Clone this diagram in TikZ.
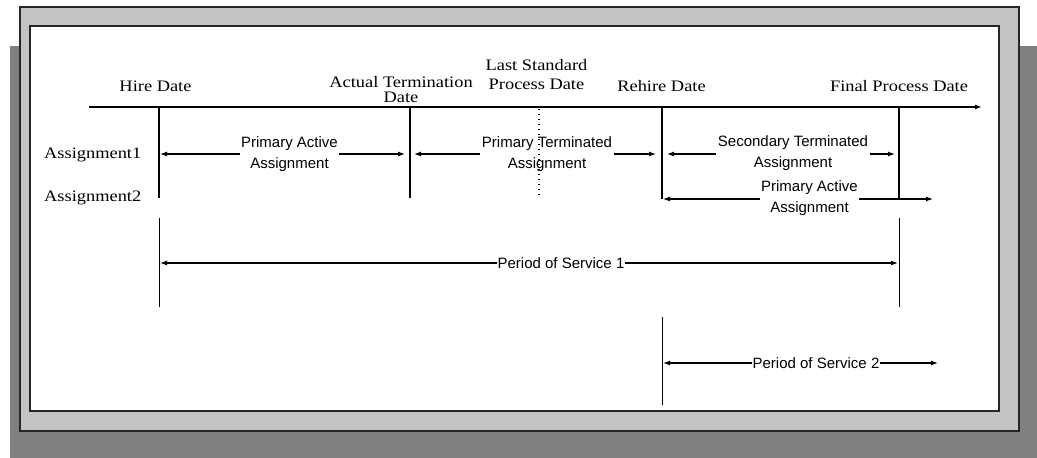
\documentclass[tikz,border=0pt]{standalone}
\usepackage{fontspec}
\setmainfont{Liberation Serif}
\newfontfamily\datefont[FakeStretch=1.15]{Liberation Serif}
\newfontfamily\labfont{Liberation Sans}
\usetikzlibrary{arrows.meta}
\definecolor{shadowgray}{HTML}{808080}
\definecolor{framegray}{HTML}{C3C3C3}
\begin{document}
\begin{tikzpicture}[x=1pt,y=-1pt,
  datelbl/.style={font=\datefont\fontsize{16}{15}\selectfont, inner sep=0pt, align=center},
  arrlbl/.style={font=\labfont\fontsize{15}{21}\selectfont, fill=white, inner sep=1.5pt, align=center},
  axis/.style={line width=1.5pt, -{Latex[length=7pt,width=5pt]}},
  tick/.style={line width=1.4pt},
  thintick/.style={line width=1pt},
  span/.style={line width=1.2pt, {Latex[length=7pt,width=5pt]}-{Latex[length=7pt,width=5pt]}},
  dots/.style={line width=1.2pt, dash pattern=on 1.2pt off 3.8pt}
]
\useasboundingbox (0,0) rectangle (1037,458);
\fill[white] (0,0) rectangle (1037,458);
% frame
\fill[shadowgray] (10,46) rectangle (1037,458);
\filldraw[fill=framegray, draw=black!85, line width=1.4pt] (20,7) rectangle (1019,431);
\filldraw[fill=white, draw=black!85, line width=1.4pt] (30,26) rectangle (999,411);

% coordinates
\coordinate (tlA) at (89,107);
\coordinate (tlB) at (982,107);
\coordinate (hireT) at (159,107);   \coordinate (hireB) at (159,198);
\coordinate (hireT2) at (159,218);  \coordinate (hireB2) at (159,307);
\coordinate (actT) at (410,107);    \coordinate (actB) at (410,198);
\coordinate (lstT) at (539,109);    \coordinate (lstB) at (539,197);
\coordinate (rehT) at (662,107);    \coordinate (rehB) at (662,199);
\coordinate (rehT2) at (662,317);   \coordinate (rehB2) at (662,405);
\coordinate (finT) at (899,107);    \coordinate (finB) at (899,199);
\coordinate (finT2) at (899,218);   \coordinate (finB2) at (899,307);

% top labels
\node[datelbl, anchor=base] (hire) at (155.5,91) {Hire Date};
\node[datelbl, anchor=north] (act) at (401,76) {Actual Termination\\Date};
\node[datelbl, anchor=north, font=\datefont\fontsize{16}{19}\selectfont] (lst) at (536.5,59) {Last Standard\\Process Date};
\node[datelbl, anchor=base] (reh) at (661.5,91) {Rehire Date};
\node[datelbl, anchor=base] (fin) at (899,91) {Final Process Date};
\node[datelbl, anchor=base west] (as1) at (44,158) {Assignment1};
\node[datelbl, anchor=base west] (as2) at (44,201) {Assignment2};

% timeline and ticks
\draw[axis] (tlA) -- (tlB);
\draw[tick] (hireT) -- (hireB);
\draw[thintick] (hireT2) -- (hireB2);
\draw[tick] (actT) -- (actB);
\draw[tick] (rehT) -- (rehB);
\draw[thintick] (rehT2) -- (rehB2);
\draw[tick] (finT) -- (finB);
\draw[thintick] (finT2) -- (finB2);

% spans
\coordinate (a1) at (160,154); \coordinate (a2) at (405,154);
\coordinate (b1) at (414,154); \coordinate (b2) at (656,154);
\coordinate (c1) at (667,154); \coordinate (c2) at (895,154);
\coordinate (d1) at (663,199); \coordinate (d2) at (933,199);
\coordinate (p1) at (160,263); \coordinate (p2) at (898,263);
\coordinate (q1) at (663,363); \coordinate (q2) at (938,363);

\draw[span] (a1) -- (a2);
\draw[span] (b1) -- (b2);
\draw[span] (c1) -- (c2);
\draw[span] (d1) -- (d2);
\draw[span] (p1) -- (p2);
\draw[span] (q1) -- (q2);

\node[arrlbl] (pa1) at (289.5,154) {Primary Active\\Assignment};
\node[arrlbl] (pt) at (547,154) {Primary Terminated\\Assignment};
\node[arrlbl] (st) at (793,153) {Secondary Terminated\\Assignment};
\node[arrlbl] (pa2) at (809.5,198) {Primary Active\\Assignment};
\node[arrlbl, inner sep=0.5pt] (ps1) at (561,263) {Period of Service 1};
\node[arrlbl, inner sep=0.5pt] (ps2) at (816,363) {Period of Service 2};

\draw[dots] (lstT) -- (lstB);
\end{tikzpicture}
\end{document}
